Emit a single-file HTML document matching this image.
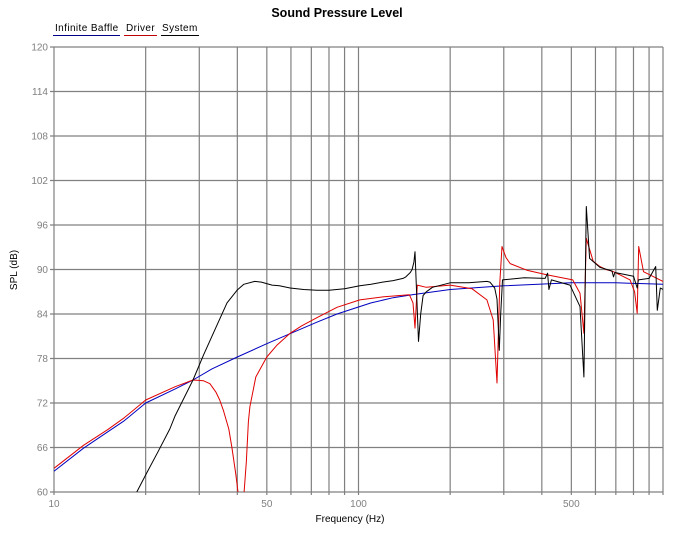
<!DOCTYPE html>
<html><head><meta charset="utf-8"><style>
body{margin:0;background:#fff;font-family:"Liberation Sans",sans-serif}
svg text{font-family:"Liberation Sans",sans-serif}
</style></head><body>
<svg id="chart" width="678" height="541" xmlns="http://www.w3.org/2000/svg">
<text x="337" y="17" text-anchor="middle" font-size="12.5" font-weight="bold">Sound Pressure Level</text>
<g font-size="10" fill="#000">
<g><text x="55" y="31" letter-spacing="0.4">Infinite Baffle</text><line x1="53" y1="35.5" x2="120" y2="35.5" stroke="#00008b" stroke-width="1"/></g>
<g><text x="126" y="31" letter-spacing="0.4">Driver</text><line x1="124" y1="35.5" x2="157" y2="35.5" stroke="#c00000" stroke-width="1"/></g>
<g><text x="162" y="31" letter-spacing="0.4">System</text><line x1="161" y1="35.5" x2="199" y2="35.5" stroke="#000" stroke-width="1"/></g>
</g>
<g id="grid"></g>
<g id="yticks" font-size="10" fill="#808080"></g>
<g id="xticks" font-size="10" fill="#808080"></g>
<text transform="translate(17,270) rotate(-90)" text-anchor="middle" font-size="10">SPL (dB)</text>
<text x="350" y="522" text-anchor="middle" font-size="10">Frequency (Hz)</text>
<g id="series"></g>
</svg>
<script>
const yTicks=[120,114,108,102,96,90,84,78,72,66,60];
const xGrid=[20,30,40,50,60,70,80,90,100,200,300,400,500,600,700,800,900,1000];
const xLabels=[10,50,100,500];
const baffleF=[10,12.5,15,17,20,25,28.6,33,40,50,60,73,85,110,130,150,200,300,500,700,1000];
const baffleV=[62.8,65.9,68.1,69.6,72.0,73.9,75.1,76.6,78.2,80.0,81.4,82.9,84.0,85.5,86.2,86.6,87.3,87.8,88.2,88.2,88.0];
const driverF=[10,12.5,15,17,20,25,28.6,31,32.5,34,35,36,37.5,38.4,39.5,40.2,41,42.1,42.8,43.5,44,46,50,54,59.6,65,73,85,101,120,147,151,153.3,156,167,200,236,264,277,285,291,296,305,315,357,415,505,534,550,560,590,620,650,688,780,807,823,832,863,1000];
const driverV=[63.2,66.3,68.4,70.0,72.4,74.2,75.1,75.0,74.6,73.5,72.4,71.0,68.5,66.0,62.5,60,58,60,64.0,69.5,71.5,75.5,78.2,79.8,81.4,82.4,83.5,84.9,85.9,86.3,86.6,85.5,82.1,87.9,87.6,87.9,87.4,85.9,83.2,74.7,88.2,93.1,91.6,90.8,89.9,89.3,88.6,86.8,81.4,94.2,91.1,90.4,90.0,89.7,88.6,87.0,84.1,93.1,89.7,88.4];
const systemF=[18.7,20,22,24,25,28.6,31,34.3,37,39.9,42,45.6,48,52,55,59.6,66,73,80,90,101,110,120,130,140,143,148,150,152,153.3,157.4,160,163,167,175,200,230,264,270,280,285,290,293,297,350,410,418,422,430,495,534,550,560,574,620,680,688,695,800,823,830,900,946,958,980,1000];
const systemV=[60,62.3,65.5,68.5,70.3,75.1,78.5,82.5,85.5,87.2,88.0,88.4,88.3,87.9,87.8,87.5,87.3,87.2,87.2,87.4,87.8,88.0,88.3,88.5,88.8,89.0,89.6,90.0,91.0,92.4,80.3,84.0,86.5,87.0,87.6,88.2,88.2,88.4,88.3,87.5,86.0,79.1,84.0,88.6,88.9,88.8,89.5,87.3,88.6,87.9,85.0,75.5,98.5,91.5,90.3,89.8,89.0,89.6,89.1,87.5,88.6,88.8,90.4,84.5,87.5,87.3];
const X0=54,X1=663,Y0=47,Y1=492;
const xs=f=>X0+(X1-X0)*(Math.log10(f)-1)/2;
const ys=v=>Y0+(Y1-Y0)*(120-v)/60;
const NS="http://www.w3.org/2000/svg";
function mk(tag,attrs,parent){const e=document.createElementNS(NS,tag);for(const k in attrs)e.setAttribute(k,attrs[k]);parent.appendChild(e);return e;}
const grid=document.getElementById('grid'),yt=document.getElementById('yticks'),xt=document.getElementById('xticks'),ser=document.getElementById('series');
yTicks.forEach(v=>{
 const l=mk('line',{x1:X0-4,x2:X1,y1:ys(v),y2:ys(v),stroke:'#808080','stroke-width':1.2},grid);
 
 
 const t=mk('text',{x:X0-6,y:ys(v)+3.5,'text-anchor':'end'},yt);t.textContent=v;
 
 
});
mk('line',{x1:X0,x2:X0,y1:Y0,y2:Y1+3,stroke:'#808080','stroke-width':1.2},grid);
xGrid.forEach(f=>{
 const l=mk('line',{x1:xs(f),x2:xs(f),y1:Y0,y2:Y1+3,stroke:'#808080','stroke-width':1.2},grid);
 
 
});
xLabels.forEach(f=>{
 const t=mk('text',{x:xs(f),y:507,'text-anchor':'middle'},xt);t.textContent=f;
 
 
});
const clip=mk('clipPath',{id:'pc'},document.getElementById('chart'));
mk('rect',{x:X0,y:Y0,width:X1-X0,height:Y1-Y0},clip);
function line(F,V,color,name){
 const p=mk('polyline',{points:F.map((f,i)=>xs(f).toFixed(1)+','+ys(V[i]).toFixed(1)).join(' '),fill:'none',stroke:color,'stroke-width':1,'stroke-linejoin':'round','clip-path':'url(#pc)'},ser);
 
 
}
line(baffleF,baffleV,'#0000c0','infinite-baffle-line');
line(driverF,driverV,'#e00000','driver-line');
line(systemF,systemV,'#000000','system-line');
</script>
</body></html>
